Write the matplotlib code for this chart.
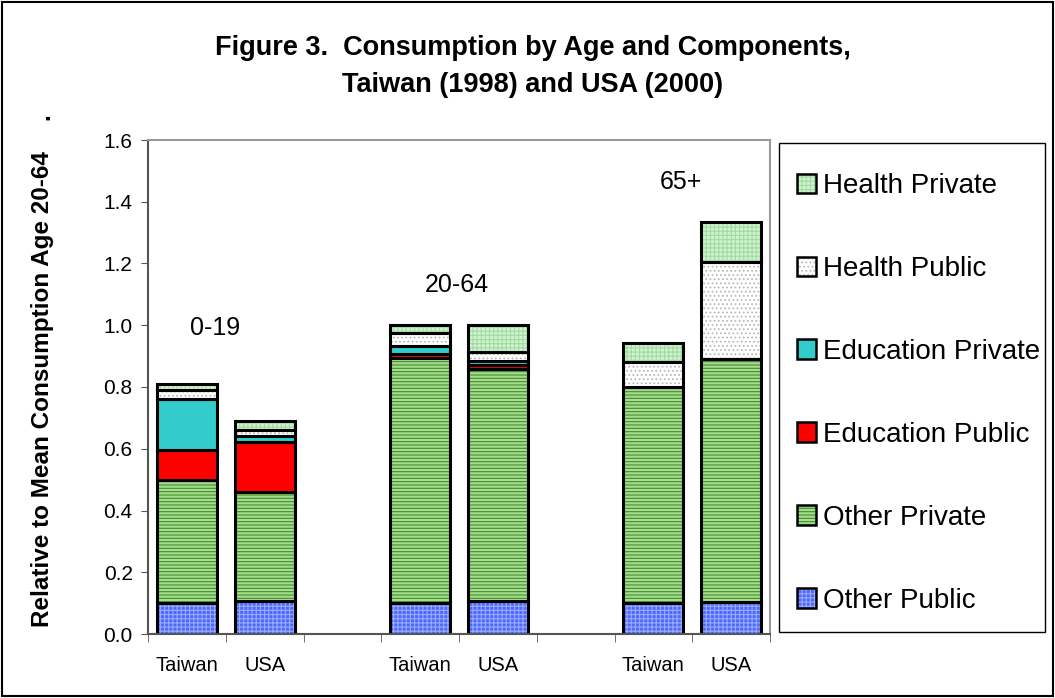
import numpy as np
import matplotlib.pyplot as plt
from matplotlib.patches import Rectangle, Patch

plt.rcParams['font.family'] = ['Liberation Sans', 'DejaVu Sans']
plt.rcParams['hatch.linewidth'] = 0.8

# categories along x (blank slots separate the age groups)
categories = ["Taiwan", "USA", "", "Taiwan", "USA", "", "Taiwan", "USA"]
age_groups = ["0-19", "20-64", "65+"]

# values for the six bars, in order: TW 0-19, USA 0-19, TW 20-64, USA 20-64, TW 65+, USA 65+
other_public = [0.100, 0.108, 0.101, 0.108, 0.099, 0.105]
other_private = [0.400, 0.351, 0.792, 0.749, 0.700, 0.785]
education_public = [0.097, 0.162, 0.014, 0.014, 0.0, 0.0]
education_private = [0.163, 0.021, 0.027, 0.014, 0.0, 0.0]
health_public = [0.029, 0.019, 0.040, 0.029, 0.081, 0.314]
health_private = [0.020, 0.030, 0.026, 0.086, 0.061, 0.131]

series = [
    ("Other Public", other_public, "#4d6bfa", "#9aaaff", "++++"),
    ("Other Private", other_private, "#a6dc8c", "#3f8f30", "-----"),
    ("Education Public", education_public, "#ff0000", None, None),
    ("Education Private", education_private, "#33cccc", None, None),
    ("Health Public", health_public, "#ffffff", "#b8b8b8", "...."),
    ("Health Private", health_private, "#ccf5cc", "#a6d8a6", "++++"),
]

fig = plt.figure(figsize=(10.55, 6.98), dpi=100)
ax = fig.add_axes([148 / 1055, 1 - 634 / 698, (770 - 148) / 1055, (634 - 140) / 698])

x = np.array([i for i, c in enumerate(categories) if c])
width = 0.77
bottom = np.zeros(len(x))
handles = []
labels = []
for name, vals, fc, hc, hatch in series:
    vals = np.array(vals)
    if hatch:
        ax.bar(x, vals, width, bottom=bottom, color=fc, edgecolor=hc, hatch=hatch, linewidth=0)
        fill = Patch(facecolor=fc, edgecolor=hc, hatch=hatch, linewidth=0)
    else:
        ax.bar(x, vals, width, bottom=bottom, color=fc, linewidth=0)
        fill = Patch(facecolor=fc, linewidth=0)
    ax.bar(x, vals, width, bottom=bottom, fill=False, edgecolor='black', linewidth=2.2)
    bottom = bottom + vals
    # legend swatch: coloured fill with black outline on top
    handles.append((fill, Patch(fill=False, edgecolor='black', linewidth=1.8)))
    labels.append(name)

ax.set_xlim(-0.5, len(categories) - 0.5)
ax.set_ylim(0, 1.6)
ax.set_yticks(np.arange(0, 1.61, 0.2))
ax.set_yticklabels([f"{v:.1f}" for v in np.arange(0, 1.61, 0.2)], fontsize=15)
ax.set_xticks(range(len(categories)))
ax.set_xticklabels(categories, fontsize=14.5)
ax.tick_params(axis='x', which='major', length=0, pad=16)
ax.set_xticks(np.arange(-0.5, len(categories), 1), minor=True)
ax.tick_params(axis='x', which='minor', length=6, direction='out', color='#555555')
ax.tick_params(axis='y', length=5, direction='out', color='#555555', pad=6)
for s in ['left', 'bottom']:
    ax.spines[s].set_color('#555555')
    ax.spines[s].set_linewidth(1.5)
for s in ['top', 'right']:
    ax.spines[s].set_color('#999999')
    ax.spines[s].set_linewidth(1.5)

# age group labels
ax.text(0.365, 0.99, age_groups[0], fontsize=18, ha='center', va='center')
ax.text(3.47, 1.13, age_groups[1], fontsize=18, ha='center', va='center')
ax.text(6.36, 1.464, age_groups[2], fontsize=18, ha='center', va='center')

fig.text(533 / 1055, 1 - 48 / 698, "Figure 3.  Consumption by Age and Components,",
         fontsize=19.5, fontweight='bold', ha='center', va='center')
fig.text(533 / 1055, 1 - 85 / 698, "Taiwan (1998) and USA (2000)",
         fontsize=19.5, fontweight='bold', ha='center', va='center')
fig.text(43 / 1055, 1 - 389 / 698, "Relative to Mean Consumption Age 20-64",
         fontsize=17.5, fontweight='bold', rotation=90, ha='center', va='center')
fig.text(43 / 1055, 1 - 117 / 698, ".",
         fontsize=17.5, fontweight='bold', rotation=90, ha='center', va='center')

# legend box
fig.patches.append(Rectangle((779 / 1055, 1 - 632 / 698), (1045 - 779) / 1055, (632 - 143) / 698,
                             transform=fig.transFigure, fill=False, edgecolor='black', linewidth=1))
leg = fig.legend(handles[::-1], labels[::-1], loc='upper left', bbox_to_anchor=(797 / 1055, 1 - 173 / 698),
                 frameon=False, fontsize=20, labelspacing=2.05, handlelength=0.7, handleheight=0.7,
                 handletextpad=0.25, borderpad=0, borderaxespad=0)

# outer frame
fig.patches.append(Rectangle((0.002, 0.003), 0.996, 0.994, transform=fig.transFigure,
                             fill=False, edgecolor='black', linewidth=1.5))

fig.savefig("out.png", dpi=100)
